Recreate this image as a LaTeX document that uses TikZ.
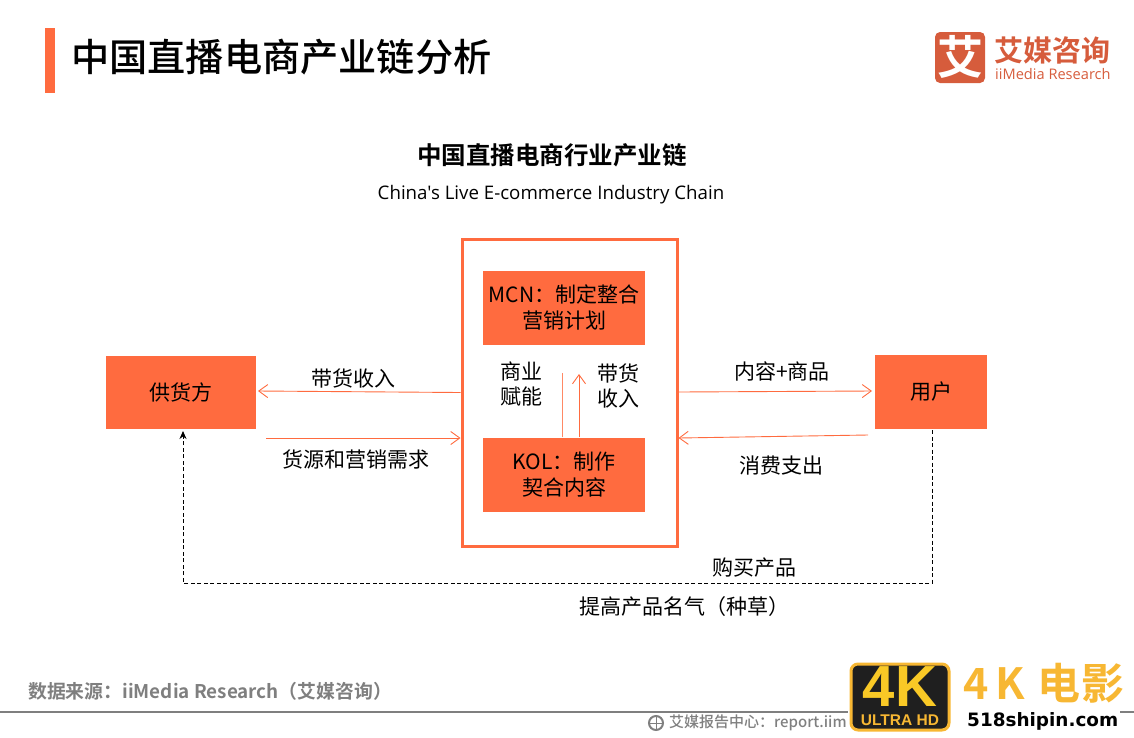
\documentclass[tikz,border=0pt]{standalone}
\usepackage{fontspec}
\setmainfont[BoldFont=Noto Sans CJK SC Medium]{Noto Sans CJK SC}
\newfontfamily\heavyfont{Noto Sans CJK SC Bold}
\newfontfamily\enfont{Open Sans}
\newfontfamily\badgefont{Liberation Sans Bold}
\newfontfamily\urlfont{DejaVu Sans Bold}
\usetikzlibrary{arrows.meta}
\definecolor{chainorange}{HTML}{FF6B3F}
\definecolor{logored}{HTML}{D65C3C}
\definecolor{footgray}{HTML}{7F7F7F}
\definecolor{goldtext}{HTML}{F7B733}
\newcommand{\fsz}[2]{\fontsize{#1}{#2}\selectfont}
\tikzset{
    boxnode/.style={fill=chainorange, inner sep=0pt, align=center, font=\fsz{21}{26}},
    labelnode/.style={inner sep=0pt, align=center, font=\fsz{21}{25}},
    flowline/.style={draw=chainorange, line width=0.9pt, -{Straight Barb[length=9pt,width=13pt]}},
    dashline/.style={black, line width=1pt, dash pattern=on 4pt off 2.5pt, -{Stealth[length=8pt,width=7pt]}}
}
\begin{document}
\begin{tikzpicture}[x=1pt,y=-1pt]
    \useasboundingbox (0,0) rectangle (1134,737);
    % header
    \fill[chainorange] (45,28) rectangle (55,93);
    \node[inner sep=0pt, anchor=west, font=\fsz{38.2}{44}\bfseries] (pagetitle) at (71,57) {中国直播电商产业链分析};
    \fill[logored, rounded corners=5pt] (935,32) rectangle (985,83);
    \node[inner sep=0pt, text=white, font=\heavyfont\fsz{46}{50}] (logomark) at (960,57) {艾};
    \node[inner sep=0pt, anchor=west, text=logored, font=\heavyfont\fsz{29}{32}] (logoname) at (994,50) {艾媒咨询};
    \node[inner sep=0pt, anchor=west, text=logored, font=\enfont\fsz{14.6}{15}] (logoen) at (995,74) {iiMedia Research};
    % titles
    \node[inner sep=0pt, font=\heavyfont\fsz{24.5}{28}] (charttitle) at (552,155) {中国直播电商行业产业链};
    \node[inner sep=0pt, font=\enfont\fsz{18.7}{24}] (chartsub) at (551,195) {China's Live E-commerce Industry Chain};
    % boxes
    \node[draw=chainorange, line width=3pt, minimum width=215pt, minimum height=307pt, inner sep=0pt] (frame) at (569.5,392.5) {};
    \node[boxnode, minimum width=162pt, minimum height=74pt] (mcn) at (564,307.5) {MCN：制定整合\\营销计划};
    \node[boxnode, minimum width=162pt, minimum height=74pt] (kol) at (564,474.5) {KOL：制作\\契合内容};
    \node[boxnode, minimum width=150pt, minimum height=73pt] (supplier) at (181,392.5) {供货方};
    \node[boxnode, minimum width=112pt, minimum height=74pt] (user) at (931,392) {用户};
    % free ends
    \coordinate (supin) at (258,391);
    \coordinate (supout) at (266,438);
    \coordinate (userin) at (872,391);
    \coordinate (userout) at (868,435);
    \coordinate (upa) at (562,373);
    \coordinate (upb) at (579,374);
    \coordinate (dashstart) at (932,430);
    \coordinate (dashcorner) at (932,583);
    \coordinate (dashleft) at (183,583);
    \coordinate (dashend) at (183,431);
    % connectors
    \draw[flowline] (frame.west |- 0,392.5) -- (supin);
    \draw[flowline] (supout) -- (frame.west |- 0,438);
    \draw[flowline] (frame.east |- 0,392) -- (userin);
    \draw[flowline] (userout) -- (frame.east |- 0,438);
    \draw[draw=chainorange!80, line width=0.9pt] (kol.north -| upa) -- (upa);
    \draw[flowline] (kol.north -| upb) -- (upb);
    \draw[dashline] (dashstart) -- (dashcorner) -- (dashleft) -- (dashend);
    % labels
    \node[labelnode] (l1) at (353,378) {带货收入};
    \node[labelnode] (l2) at (356,459) {货源和营销需求};
    \node[labelnode] (l3) at (782,371) {内容+商品};
    \node[labelnode] (l4) at (781,465) {消费支出};
    \node[labelnode] (l5) at (754,568) {购买产品};
    \node[labelnode] (l6) at (684,607) {提高产品名气（种草）};
    \node[labelnode] (l7) at (521,384) {商业\\赋能};
    \node[labelnode] (l8) at (618,386) {带货\\收入};
    % footer
    \node[inner sep=0pt, anchor=west, text=footgray, font=\heavyfont\fsz{18.85}{22}] (source) at (28,691) {数据来源：iiMedia Research（艾媒咨询）};
    \draw[footgray, line width=2pt] (0,712) -- (848,712);
    \draw[footgray, line width=2pt] (1120,712) -- (1134,712);
    \draw[footgray, line width=2pt] (656,723) circle (7);
    \draw[footgray, line width=1pt] (649,723) -- (663,723) (656,716) -- (656,730);
    \node[inner sep=0pt, anchor=west, text=footgray, font=\fsz{15}{18}\bfseries] (report) at (669,723) {艾媒报告中心：report.iim};
    % badge
    \node[draw=goldtext, line width=3pt, fill=black!88, rounded corners=7pt, minimum width=98pt, minimum height=66pt, inner sep=0pt] (badge) at (900,697) {};
    \node[inner sep=0pt, text=goldtext!75!yellow, font=\badgefont\fsz{58}{60}] (badgefk) at (900,687) {4K};
    \node[inner sep=0pt, text=goldtext, font=\badgefont\fsz{15.5}{16}] (badgehd) at (900,720) {ULTRA HD};
    \node[inner sep=0pt, anchor=west, text=goldtext, font=\heavyfont\fsz{43}{46}] (wmname) at (963,683) {4\hspace{7pt}K\hspace{12pt}电\hspace{1pt}影};
    \node[inner sep=0pt, anchor=west, font=\urlfont\fsz{18.4}{20}] (wmurl) at (967,721) {518shipin.com};
\end{tikzpicture}
\end{document}
